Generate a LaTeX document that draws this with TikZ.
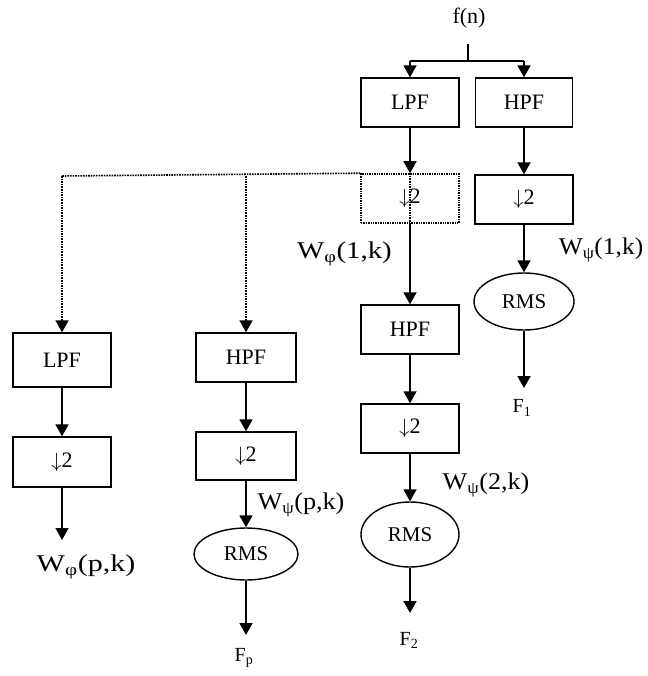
\documentclass[tikz,border=0pt]{standalone}
\usepackage{fontspec}
\usepackage{graphicx}
\setmainfont{Liberation Serif}
\usetikzlibrary{arrows.meta,shapes.geometric}
\newcommand\wlab[2]{\scalebox{#1}[1]{#2}}
\begin{document}
\begin{tikzpicture}[x=1pt,y=-1pt,
  blk/.style={draw,line width=1.4pt,minimum width=98pt,minimum height=49pt,inner sep=0pt,font=\fontsize{22}{22}\selectfont},
  dblk/.style={blk,densely dotted,line width=1.6pt},
  rms/.style={draw,ellipse,line width=1.4pt,minimum width=98pt,minimum height=58pt,inner sep=0pt,font=\fontsize{21}{21}\selectfont},
  flow/.style={line width=1.8pt,-{Triangle[length=12pt,width=13pt]}},
  dflow/.style={line width=1.6pt,densely dotted,-{Triangle[length=12pt,width=13pt]}},
  dline/.style={line width=1.6pt,densely dotted},
  wl/.style={font=\fontsize{24}{24}\selectfont,inner sep=0pt},
  flab/.style={font=\fontsize{20}{20}\selectfont,inner sep=0pt}]
\useasboundingbox (0,0) rectangle (647,676);
% top
\node[font=\fontsize{22}{22}\selectfont,inner sep=0pt] (fn) at (469,18) {f(n)};
\coordinate (s0) at (468,44);
\coordinate (s1) at (468,61);
\coordinate (sl) at (410,61);
\coordinate (sr) at (524,61);
\node[blk] (lpf1) at (410,102.5) {LPF};
\node[blk,minimum width=97pt] (hpf1) at (524,102.5) {HPF};
\draw[line width=1.8pt] (s0) -- (s1);
\draw[line width=1.8pt] (sl) -- (sr);
\draw[flow] (sl) -- (lpf1.north);
\draw[flow] (sr) -- (hpf1.north);
% level 1
\node[dblk] (d1) at (410,198.5) {$\downarrow$2};
\node[blk] (d1r) at (524,199.5) {$\downarrow$2};
\node[rms,minimum width=100pt,minimum height=57pt] (rms1) at (524,301.5) {RMS};
\coordinate (f1e) at (524,388);
\node[flab] (f1) at (522,408) {F\textsubscript{1}};
\draw[flow] (lpf1.south) -- (d1.north);
\draw[flow] (hpf1.south) -- (d1r.north);
\draw[flow] (d1r.south) -- (rms1.north);
\draw[flow] (rms1.south) -- (f1e);
\node[wl] (w1r) at (601,250) {\wlab{1.06}{W\textsubscript{ψ}(1,k)}};
\node[wl] (w1l) at (344.5,254) {\wlab{1.2}{W\textsubscript{φ}(1,k)}};
% middle column
\node[blk] (hpf2) at (410,329.5) {HPF};
\node[blk] (d2) at (410,428.5) {$\downarrow$2};
\node[rms,minimum height=65pt] (rms2) at (410,534.5) {RMS};
\coordinate (f2e) at (410,613);
\node[flab] (f2) at (409,640) {F\textsubscript{2}};
\draw[flow] (d1.south) -- (hpf2.north);
\draw[flow] (hpf2.south) -- (d2.north);
\draw[flow] (d2.south) -- (rms2.north);
\draw[flow] (rms2.south) -- (f2e);
\node[wl] (w2) at (486,485) {\wlab{1.09}{W\textsubscript{ψ}(2,k)}};
% dotted branches
\coordinate (dl) at (62,176);
\coordinate (dm) at (246,176);
\draw[dline] (d1.north) -- (d1.south);
\draw[dline] (d1.north west) -- (dl);
\node[blk,minimum height=54pt] (lpf3) at (62,360) {LPF};
\node[blk,minimum height=50pt] (d3) at (62,462) {$\downarrow$2};
\coordinate (w3e) at (62,540);
\node[wl] (w3) at (86,567) {\wlab{1.25}{W\textsubscript{φ}(p,k)}};
\node[blk,minimum width=100pt] (hpf4) at (246,357.5) {HPF};
\node[blk,minimum width=100pt,minimum height=48pt] (d4) at (246,456) {$\downarrow$2};
\node[rms,minimum width=104pt,minimum height=52pt] (rms4) at (246,554) {RMS};
\coordinate (fpe) at (246,635);
\node[flab] (fp) at (244,658) {F\textsubscript{p}};
\node[wl] (w4) at (301,505) {\wlab{1.09}{W\textsubscript{ψ}(p,k)}};
\draw[dflow] (dl) -- (lpf3.north);
\draw[dflow] (dm) -- (hpf4.north);
\draw[flow] (lpf3.south) -- (d3.north);
\draw[flow] (d3.south) -- (w3e);
\draw[flow] (hpf4.south) -- (d4.north);
\draw[flow] (d4.south) -- (rms4.north);
\draw[flow] (rms4.south) -- (fpe);
\end{tikzpicture}
\end{document}
